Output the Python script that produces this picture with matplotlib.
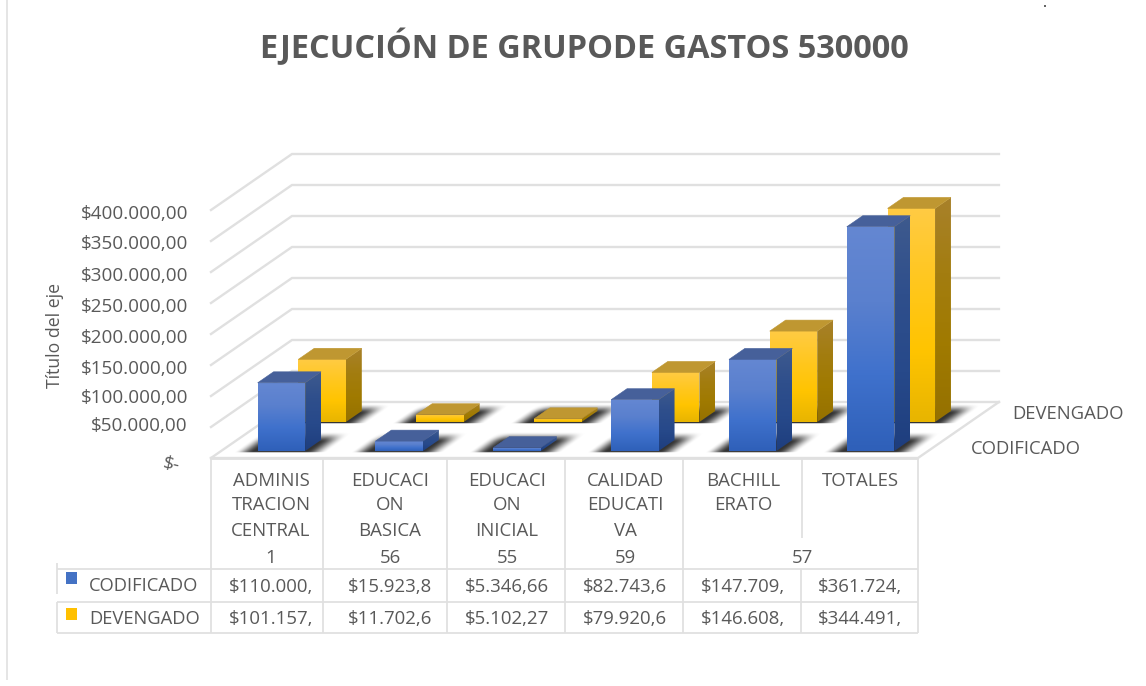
import numpy as np
import matplotlib
matplotlib.use("Agg")
import matplotlib.pyplot as plt
from matplotlib.patches import Polygon, Rectangle
from matplotlib.transforms import Affine2D, IdentityTransform
from matplotlib.colors import to_rgb

# ---------- data ----------
categories = ["ADMINIS\nTRACION\nCENTRAL", "EDUCACI\nON\nBASICA", "EDUCACI\nON\nINICIAL",
              "CALIDAD\nEDUCATI\nVA", "BACHILL\nERATO", "TOTALES"]
codes = ["1", "56", "55", "59", "57"]
codificado = [110000.0, 15923.8, 5346.66, 82743.6, 147709.0, 361724.0]
devengado = [101157.0, 11702.6, 5102.27, 79920.6, 146608.0, 344491.0]
codificado_txt = ["$110.000,", "$15.923,8", "$5.346,66", "$82.743,6", "$147.709,", "$361.724,"]
devengado_txt = ["$101.157,", "$11.702,6", "$5.102,27", "$79.920,6", "$146.608,", "$344.491,"]
y_ticks = [50000, 100000, 150000, 200000, 250000, 300000, 350000, 400000]
y_tick_labels = ["$50.000,00", "$100.000,00", "$150.000,00", "$200.000,00",
                 "$250.000,00", "$300.000,00", "$350.000,00", "$400.000,00"]

# ---------- geometry ----------
W, H = 1146, 686
X0, Y0 = 211.0, 458.0      # front-left floor corner, pixels
CAT_PX = 117.83            # pixels per category
K = 0.00062                # pixels per currency unit
SHEAR = 1.446              # pixels in x per pixel of depth
FONT = "Open Sans"
TXT = "#595959"
GRID = "#E0E0E0"

fig = plt.figure(figsize=(W / 100, H / 100), dpi=100, facecolor="white")
ax = fig.add_axes([0, 0, 1, 1])
ax.axis("off")
xlim = (-X0 / CAT_PX, (W - X0) / CAT_PX)
ylim = ((Y0 - H) / K, Y0 / K)
px = Affine2D().scale(1, -1).translate(0, H)


def P(c, v, d=0.0):
    return (c + d * SHEAR / CAT_PX, v + d / K)


def grad(poly, colors, top, bottom, z):
    """Vertical gradient clipped to a polygon given in data coordinates."""
    pts = np.array(poly)
    n = 64
    stops = np.linspace(0, 1, len(colors))
    arr = np.zeros((n, 1, 3))
    cols = np.array([to_rgb(c) for c in colors])
    t = np.linspace(0, 1, n)
    for ch in range(3):
        arr[:, 0, ch] = np.interp(t, stops, cols[:, ch])
    im = ax.imshow(arr, extent=(pts[:, 0].min(), pts[:, 0].max(), bottom, top),
                   aspect="auto", origin="upper", zorder=z, interpolation="bilinear")
    clip = Polygon(poly, closed=True, transform=ax.transData)
    im.set_clip_path(clip)


def shadow(c, w, d, z):
    """Soft floor shadow below a bar, computed on a pixel grid."""
    xa = X0 + c * CAT_PX + d * SHEAR
    xb = xa + w * CAT_PX
    yb = Y0 - d
    left, right = xa - 30, xb + 55
    top_px, bot_px = yb - 22, yb + 2
    xs = np.arange(left, right, 1.0)
    ys = np.arange(top_px, bot_px, 1.0)
    xx, yy = np.meshgrid(xs, ys)
    v = yb - yy
    u = xx - v * SHEAR

    def edge(s, soft):
        t = np.clip(s / soft, 0, 1)
        return t * t * (3 - 2 * t)

    a = edge(u - (xa - 24), 20) * edge((xb + 22) - u, 22) * edge(19 - v, 10) * edge(v + 1.5, 1.5)
    rgba = np.zeros(xx.shape + (4,))
    rgba[..., 3] = a * 0.8
    bl = ((left - X0) / CAT_PX, (Y0 - bot_px) / K)
    tr = ((right - X0) / CAT_PX, (Y0 - top_px) / K)
    ax.imshow(rgba, extent=(bl[0], tr[0], bl[1], tr[1]), aspect="auto", origin="upper",
              zorder=z, interpolation="bilinear")


def bar(c, w, v, d, depth, front, side, topc, z):
    fr = [P(c, 0, d), P(c + w, 0, d), P(c + w, v, d), P(c, v, d)]
    sd = [P(c + w, 0, d), P(c + w, 0, d + depth), P(c + w, v, d + depth), P(c + w, v, d)]
    tp = [P(c, v, d), P(c + w, v, d), P(c + w, v, d + depth), P(c, v, d + depth)]
    grad(fr, front, fr[2][1], fr[0][1], z)
    grad(sd, side, sd[2][1], sd[0][1], z)
    ax.add_patch(Polygon(tp, closed=True, facecolor=topc, edgecolor=topc, lw=0.4, zorder=z + 0.1))


# ---------- walls and floor ----------
for v in [0] + y_ticks:
    pts = [P(0, v, 0), P(0, v, 56), P(6, v, 56)]
    ax.plot(*zip(*pts), color=GRID, lw=1.7, zorder=1, solid_joinstyle="miter")
ax.plot(*zip(*[P(0, 0, 0), P(6, 0, 0), P(6, 0, 56)]), color=GRID, lw=1.7, zorder=1)

# ---------- bars ----------
BLUE = ["#6487D2", "#5A80CE", "#3F71CC", "#2F60B9"]
BLUE_S = ["#3E5A8E", "#2F4F8C", "#27498A", "#1E3E7E"]
BLUE_T = "#46609A"
YEL = ["#FFCB43", "#FFC71F", "#FFC400", "#E8B500"]
YEL_S = ["#A8812A", "#A37D10", "#A07A00", "#957100"]
YEL_T = "#BF9731"
DEPTH = 11
WID = 0.403

for i, v in enumerate(devengado):
    shadow(i + 0.30, WID, 36, 2)
for i, v in enumerate(devengado):
    bar(i + 0.30, WID, v, 36, DEPTH, YEL, YEL_S, YEL_T, 3)
for i, v in enumerate(codificado):
    shadow(i + 0.31, WID, 7, 4)
for i, v in enumerate(codificado):
    bar(i + 0.31, WID, v, 7, DEPTH, BLUE, BLUE_S, BLUE_T, 5)

ax.set_xlim(*xlim)
ax.set_ylim(*ylim)
ax.set_autoscale_on(False)


def T(x, y, s, **kw):
    kw.setdefault("color", TXT)
    kw.setdefault("family", FONT)
    kw.setdefault("fontsize", 13.4)
    kw.setdefault("ha", "center")
    kw.setdefault("va", "center")
    return ax.text(x, y + 2, s, transform=px, zorder=10, **kw)


def L(xs, ys, color=GRID, lw=1.3):
    ax.plot(xs, ys, color=color, lw=lw, transform=px, zorder=6, solid_capstyle="butt")


# ---------- text ----------
T(584, 45, "EJECUCIÓN DE GRUPODE GASTOS 530000", fontsize=23.4, fontweight="bold")
T(55, 334, "Título del eje", rotation=90, fontsize=12.7)
tick_y = [424, 396, 367, 336, 305, 274, 242, 212]
for lab, y in zip(y_tick_labels, tick_y):
    T(188, y, lab, ha="right", fontsize=13.6)
dollar = T(171, 463, "$-", rotation=-12, fontsize=13.6)
dollar.set_clip_path(Rectangle((150, H - 480), 50, 21.5, transform=IdentityTransform()))
T(1068, 412, "DEVENGADO", fontsize=13.3)
T(1026, 447, "CODIFICADO", fontsize=13.3)

# ---------- table ----------
L([211, 918], [458.5, 458.5])
L([57, 918], [569, 569])
L([57, 918], [602, 602])
L([57, 918], [633, 633])
L([57, 57], [563, 594])
L([57, 57], [602, 633])
for x in [211, 323, 447, 565, 683]:
    L([x, x], [458, 633])
L([801.5, 801.5], [458, 538])
L([800.5, 800.5], [569, 633])
L([918, 918], [458, 633])
L([6.5, 6.5], [0, 680], color="#E3E3E3")
L([1044, 1045.5], [6, 6], color="#555555")

cx = [271, 390, 507, 625, 743, 860]
line_y = [479, 503, 529]
for x, name in zip(cx, categories):
    for y, part in zip(line_y, name.split("\n")):
        T(x, y, part)
for x, c in zip([271, 390, 507, 625, 802], codes):
    T(x, 556, c)
for x, a, b in zip(cx, codificado_txt, devengado_txt):
    T(x, 585, a)
    T(x, 617, b)

T(89, 584, "CODIFICADO", ha="left", fontsize=13.2)
T(89.5, 617, "DEVENGADO", ha="left", fontsize=13.2)
ax.add_patch(Rectangle((65.5, 572), 11.5, 11.5, transform=px, facecolor="#4472C4", edgecolor="none", zorder=7))
ax.add_patch(Rectangle((65.5, 608), 11.5, 11.5, transform=px, facecolor="#FFC000", edgecolor="none", zorder=7))

fig.savefig("out.png", dpi=100)
